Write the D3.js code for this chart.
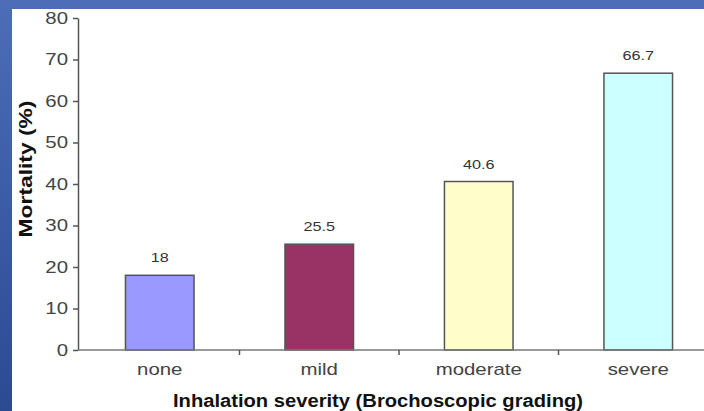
<!DOCTYPE html>
<html><head><meta charset="utf-8">
<script src="https://cdn.jsdelivr.net/npm/d3@7"></script>
<style>html,body{margin:0;padding:0;overflow:hidden;}</style>
</head><body>
<svg id="c" width="704" height="411"></svg>
<script>
const categories = ["none", "mild", "moderate", "severe"];
const mortality = [18, 25.5, 40.6, 66.7];
const valueLabels = ["18", "25.5", "40.6", "66.7"];
const yTicks = [0, 10, 20, 30, 40, 50, 60, 70, 80];
const barColors = ["#9999ff", "#993366", "#ffffcc", "#ccffff"];

const FONT = "Liberation Sans, Arial, sans-serif";
function stretch(sel, k) {
  sel.each(function() {
    const w = this.getComputedTextLength();
    d3.select(this).attr("textLength", w * k).attr("lengthAdjust", "spacingAndGlyphs");
  });
}

const svg = d3.select("#c");
const defs = svg.append("defs");
const grad = defs.append("linearGradient").attr("id","bg").attr("x1","0").attr("y1","0").attr("x2","0").attr("y2","1");
grad.append("stop").attr("offset","0").attr("stop-color","#4d6db8");
grad.append("stop").attr("offset","1").attr("stop-color","#2b4a92");
svg.append("rect").attr("width",704).attr("height",411).attr("fill","url(#bg)");
svg.append("rect").attr("x",12).attr("y",9).attr("width",692).attr("height",402).attr("fill","#ffffff");

const x = d3.scaleBand().domain(categories).range([80, 718]).paddingInner(0.57).paddingOuter(0.285);
const y = d3.scaleLinear().domain([0, 80]).range([350, 18]);

const g = svg.append("g");

g.selectAll("rect.bar").data(mortality).join("rect")
  .attr("class","bar")
  .attr("x",(d,i)=>x(categories[i]))
  .attr("y",d=>y(d))
  .attr("width",x.bandwidth())
  .attr("height",d=>y(0)-y(d))
  .attr("fill",(d,i)=>barColors[i])
  .attr("stroke","#555")
  .attr("stroke-width",1.5);

const vals = g.selectAll("text.val").data(mortality).join("text")
  .attr("class","val")
  .attr("x",(d,i)=>x(categories[i])+x.bandwidth()/2)
  .attr("y",d=>y(d)-13)
  .attr("text-anchor","middle")
  .attr("font-family",FONT)
  .attr("font-size",13.5)
  .attr("fill","#333")
  .text((d,i)=>valueLabels[i]);
stretch(vals, 1.2);

// y axis
const yAxis = g.append("g").attr("transform","translate(78,0)")
  .call(d3.axisLeft(y).tickValues(yTicks).tickSize(5).tickPadding(5).tickSizeOuter(0));
yAxis.select(".domain").attr("stroke","#555").attr("stroke-width",1.5);
yAxis.selectAll(".tick line").attr("stroke","#555").attr("stroke-width",1.5);
const yt = yAxis.selectAll(".tick text").attr("font-family",FONT)
  .attr("font-size",17).attr("fill","#444");
stretch(yt, 1.2);

// x axis
const xAxis = g.append("g").attr("transform","translate(0,350)")
  .call(d3.axisBottom(x).tickSize(0).tickPadding(0));
xAxis.select(".domain").attr("d","M78,0H718").attr("stroke","#777").attr("stroke-width",1.5);
const xt = xAxis.selectAll(".tick text").attr("font-family",FONT)
  .attr("font-size",17).attr("fill","#444").attr("dy",null).attr("y",25);
stretch(xt, 1.2);
// separator ticks between categories
const step = x.step();
xAxis.selectAll("line.sep").data(categories.slice(1)).join("line")
  .attr("class","sep")
  .attr("x1",d=>x(d)-x.paddingInner()*step/2)
  .attr("x2",d=>x(d)-x.paddingInner()*step/2)
  .attr("y1",0).attr("y2",5)
  .attr("stroke","#555").attr("stroke-width",1.5);

// titles
const xTitle = svg.append("text")
  .attr("x",378).attr("y",407)
  .attr("text-anchor","middle")
  .attr("font-family",FONT)
  .attr("font-size",18).attr("font-weight","bold").attr("fill","#111")
  .text("Inhalation severity (Brochoscopic grading)");
stretch(xTitle, 1.12);

const yTitle = svg.append("text")
  .attr("transform","translate(32,169) rotate(-90)")
  .attr("text-anchor","middle")
  .attr("font-family",FONT)
  .attr("font-size",19).attr("font-weight","bold").attr("fill","#111")
  .text("Mortality (%)");
stretch(yTitle, 1.2);
</script>
</body></html>
